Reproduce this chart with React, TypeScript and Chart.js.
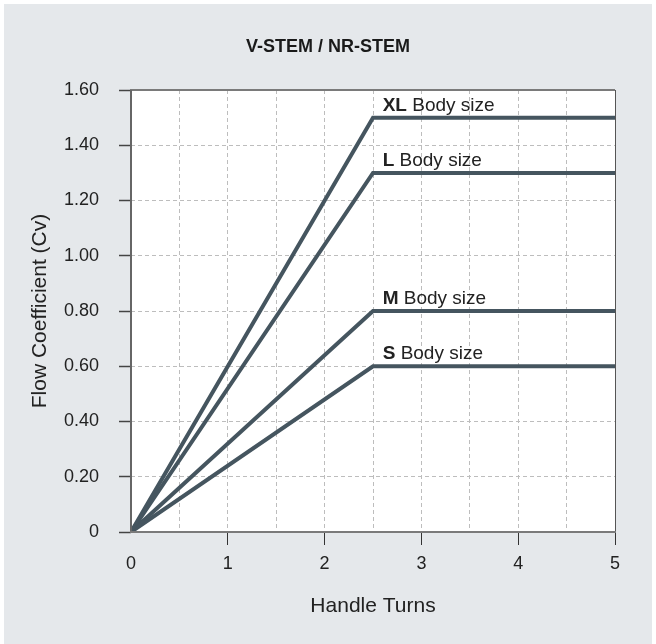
import React, { useEffect, useRef } from "react";
import { Chart, registerables } from "chart.js";

Chart.register(...registerables);

const chartTitle = "V-STEM / NR-STEM";
const xAxisTitle = "Handle Turns";
const yAxisTitle = "Flow Coefficient (Cv)";

const xPoints = [0, 2.5, 5];
const seriesNames = ["XL", "L", "M", "S"];
const seriesXL = [0, 1.5, 1.5];
const seriesL = [0, 1.3, 1.3];
const seriesM = [0, 0.8, 0.8];
const seriesS = [0, 0.6, 0.6];
const labelSuffix = " Body size";
const labelX = 2.6;

const xTickValues = [0, 1, 2, 3, 4, 5];
const xTickLabels = ["0", "1", "2", "3", "4", "5"];
const yTickValues = [0, 0.2, 0.4, 0.6, 0.8, 1.0, 1.2, 1.4, 1.6];
const yTickLabels = ["0", "0.20", "0.40", "0.60", "0.80", "1.00", "1.20", "1.40", "1.60"];

const FONT = "'Liberation Sans', Arial, Helvetica, sans-serif";
const LINE_COLOR = "#45555f";

const allSeries = [seriesXL, seriesL, seriesM, seriesS];

export default function App() {
  const ref = useRef<HTMLCanvasElement | null>(null);

  useEffect(() => {
    if (!ref.current) return;

    const bgPlugin = {
      id: "bgPlugin",
      beforeDraw(chart: any) {
        const { ctx, chartArea, width, height } = chart;
        ctx.save();
        ctx.fillStyle = "#e5e8eb";
        ctx.fillRect(0, 0, width, height);
        ctx.fillStyle = "#ffffff";
        ctx.fillRect(chartArea.left, chartArea.top, chartArea.right - chartArea.left, chartArea.bottom - chartArea.top);
        ctx.restore();
      },
      afterDraw(chart: any) {
        const { ctx, chartArea } = chart;
        const { left, right, top, bottom } = chartArea;
        ctx.save();
        ctx.strokeStyle = "#7a7a7a";
        ctx.lineWidth = 2;
        ctx.beginPath();
        ctx.moveTo(left - 1, top);
        ctx.lineTo(right, top);
        ctx.stroke();
        ctx.strokeStyle = "#555";
        ctx.lineWidth = 1;
        ctx.beginPath();
        ctx.moveTo(right + 0.5, top);
        ctx.lineTo(right + 0.5, bottom);
        ctx.stroke();
        ctx.strokeStyle = "#666";
        ctx.lineWidth = 2;
        ctx.beginPath();
        ctx.moveTo(left, top);
        ctx.lineTo(left, bottom + 1);
        ctx.stroke();
        ctx.strokeStyle = "#7a7a7a";
        ctx.lineWidth = 2;
        ctx.beginPath();
        ctx.moveTo(left - 1, bottom);
        ctx.lineTo(right + 1, bottom);
        ctx.stroke();
        ctx.restore();
      },
    };

    const labelPlugin = {
      id: "labelPlugin",
      afterDatasetsDraw(chart: any) {
        const { ctx } = chart;
        const xs = chart.scales.x;
        const ys = chart.scales.y;
        ctx.save();
        ctx.textBaseline = "alphabetic";
        ctx.textAlign = "left";
        ctx.fillStyle = "#222";
        seriesNames.forEach((name, i) => {
          const v = allSeries[i][1];
          const px = xs.getPixelForValue(labelX);
          const py = ys.getPixelForValue(v) - 7;
          ctx.font = `bold 19px ${FONT}`;
          ctx.fillText(name, px, py);
          const w = ctx.measureText(name).width;
          ctx.font = `19px ${FONT}`;
          ctx.fillText(labelSuffix, px + w, py);
        });
        ctx.restore();
      },
    };

    const chart = new Chart(ref.current, {
      type: "line",
      data: {
        datasets: seriesNames.map((name, i) => ({
          label: name,
          data: xPoints.map((x, j) => ({ x, y: allSeries[i][j] })),
          borderColor: LINE_COLOR,
          backgroundColor: LINE_COLOR,
          borderWidth: 4,
          pointRadius: 0,
          tension: 0,
          fill: false,
          borderCapStyle: "butt",
          borderJoinStyle: "miter",
        })),
      },
      options: {
        animation: false,
        responsive: false,
        maintainAspectRatio: false,
        layout: { padding: 0 },
        plugins: {
          legend: { display: false },
          tooltip: { enabled: false },
          title: {
            display: true,
            text: chartTitle,
            color: "#1a1a1a",
            font: { family: FONT, size: 18, weight: "bold" },
            padding: { top: 32, bottom: 32.4 },
          },
        },
        scales: {
          x: {
            type: "linear",
            min: 0,
            max: 5,
            afterFit(scale: any) {
              scale.height = 112;
            },
            afterBuildTicks(scale: any) {
              const t: any[] = [];
              for (let k = 0; k <= 10; k++) t.push({ value: k / 2 });
              scale.ticks = t;
            },
            ticks: {
              autoSkip: false,
              maxRotation: 0,
              padding: 8,
              color: "#222",
              font: { family: FONT, size: 18 },
              callback(value: any) {
                const idx = xTickValues.indexOf(Number(value));
                return idx >= 0 ? xTickLabels[idx] : "";
              },
            },
            grid: {
              color: "#bdbdbd",
              lineWidth: 1,
              tickLength: 13,
              tickWidth: 1,
              tickColor(ctx: any) {
                const v = ctx.tick ? ctx.tick.value : -1;
                return Number.isInteger(v) && v !== 0 ? "#333" : "rgba(0,0,0,0)";
              },
            },
            border: { display: false, dash: [4, 3] },
            title: {
              display: true,
              text: xAxisTitle,
              color: "#222",
              font: { family: FONT, size: 21 },
              padding: { top: 0, bottom: 25.4 },
            },
          },
          y: {
            type: "linear",
            min: 0,
            max: 1.6,
            afterFit(scale: any) {
              scale.width = 127;
            },
            afterBuildTicks(scale: any) {
              scale.ticks = yTickValues.map((v) => ({ value: v }));
            },
            ticks: {
              autoSkip: false,
              padding: 20,
              color: "#222",
              font: { family: FONT, size: 18 },
              callback(value: any, index: number) {
                return yTickLabels[index];
              },
            },
            grid: {
              color: "#bdbdbd",
              lineWidth: 1,
              tickLength: 12,
              tickWidth: 1.5,
              tickColor: "#444",
            },
            border: { display: false, dash: [4, 3] },
            title: {
              display: true,
              text: yAxisTitle,
              color: "#222",
              font: { family: FONT, size: 21 },
              padding: { top: 23.4, bottom: 0 },
            },
          },
          yRight: {
            type: "linear",
            position: "right",
            min: 0,
            max: 1.6,
            display: true,
            afterFit(scale: any) {
              scale.width = 37;
            },
            ticks: { display: false },
            grid: { display: false, drawOnChartArea: false, drawTicks: false },
            border: { display: false },
            title: { display: false },
          },
        },
      },
      plugins: [bgPlugin, labelPlugin],
    } as any);

    return () => chart.destroy();
  }, []);

  return (
    <div style={{ position: "absolute", left: 4, top: 4, width: 648, height: 640 }}>
      <canvas ref={ref} width={648} height={640} style={{ display: "block", width: 648, height: 640 }} />
    </div>
  );
}
